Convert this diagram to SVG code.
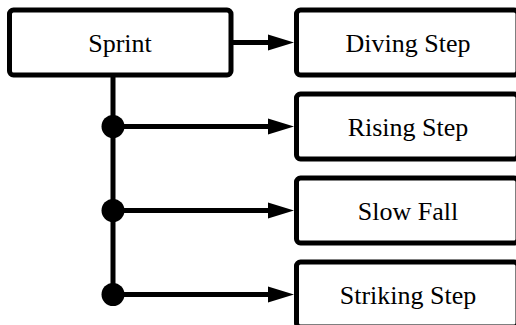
<svg xmlns="http://www.w3.org/2000/svg" width="516" height="325" viewBox="0 0 516 325">
<style>
.box{fill:#fff;stroke:#000;stroke-width:5}
.lbl{font-family:"Liberation Serif","Times New Roman",serif;font-size:26px;fill:#000;text-anchor:middle}
.conn{stroke:#000;stroke-width:5;fill:none}
.dot{fill:#000}
</style>
<defs>
<marker id="arr" markerUnits="userSpaceOnUse" markerWidth="27" markerHeight="17" refX="0" refY="8" orient="auto" overflow="visible">
<path d="M0,0 L26,8 L0,16 Z" fill="#000"/>
</marker>
</defs>
<rect width="516" height="325" fill="#fff"/>
<g id="connectors">
<line class="conn" x1="113" y1="75" x2="113" y2="294.5"/>
<line class="conn" x1="231" y1="42.5" x2="268" y2="42.5" marker-end="url(#arr)"/>
<line class="conn" x1="113" y1="126.5" x2="268" y2="126.5" marker-end="url(#arr)"/>
<line class="conn" x1="113" y1="210.5" x2="268" y2="210.5" marker-end="url(#arr)"/>
<line class="conn" x1="113" y1="294.5" x2="268" y2="294.5" marker-end="url(#arr)"/>
<circle class="dot" cx="113" cy="126.5" r="11.5"/>
<circle class="dot" cx="113" cy="210.5" r="11.5"/>
<circle class="dot" cx="113" cy="294.5" r="11.5"/>
</g>
<g id="sprint">
<rect class="box" x="9.5" y="10" width="221.5" height="65" rx="4"/>
<text class="lbl" x="120" y="51.5">Sprint</text>
</g>
<g id="diving-step">
<rect class="box" x="296.5" y="10" width="221.5" height="65" rx="4"/>
<text class="lbl" x="408" y="51.5">Diving Step</text>
</g>
<g id="rising-step">
<rect class="box" x="296.5" y="94" width="221.5" height="65" rx="4"/>
<text class="lbl" x="408" y="135.5">Rising Step</text>
</g>
<g id="slow-fall">
<rect class="box" x="296.5" y="178" width="221.5" height="65" rx="4"/>
<text class="lbl" x="408" y="219.5">Slow Fall</text>
</g>
<g id="striking-step">
<rect class="box" x="296.5" y="262" width="221.5" height="65" rx="4"/>
<text class="lbl" x="408" y="303.5">Striking Step</text>
</g>
</svg>
